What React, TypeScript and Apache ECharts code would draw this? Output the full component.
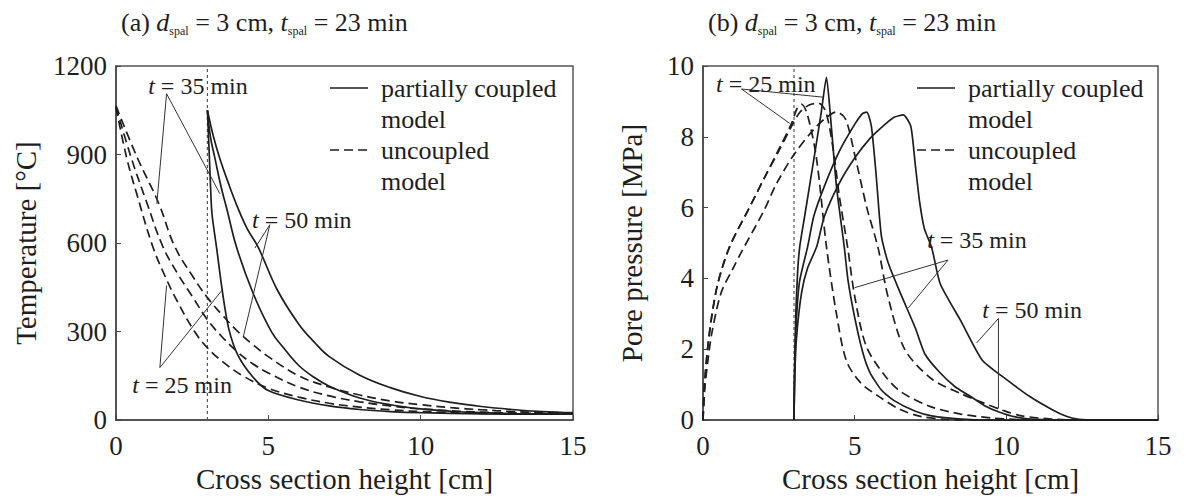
import React, { useEffect, useRef } from "react";
import * as echarts from "echarts";

const FONT = "'Liberation Serif', 'Times New Roman', serif";
const INK = "#1e1e1e";

// Axis ticks
const xTickInterval = 5;
const xRange = [0, 15];
const tempRange = [0, 1200];
const tempInterval = 300;
const pressRange = [0, 10];
const pressInterval = 2;
const spallDepth = 3;

// (a) Temperature [°C] vs cross section height [cm]
const tempUncoupled25: number[][] = [[0,1060],[0.35,889],[0.7,760],[1.2,590],[1.6,490],[2,405],[2.58,300],[3,245],[3.5,198],[4.13,152],[5,108],[6,78],[7,57],[8,44],[9,35],[10,29],[12,23],[15,20]];
const tempUncoupled35: number[][] = [[0,1062],[0.5,889],[1,740],[1.53,590],[2,500],[2.5,420],[3,340],[3.5,280],[4,230],[4.5,190],[5,160],[6,112],[7,82],[8,62],[9,48],[10,38],[12,27],[15,21]];
const tempUncoupled50: number[][] = [[0,1065],[0.7,889],[1.4,735],[1.92,590],[2.5,490],[3,415],[3.5,355],[4,300],[4.5,255],[5,215],[6,150],[7,112],[8,85],[9,65],[10,52],[11,42],[12,35],[13,29],[14,25],[15,23]];
const tempCoupled25: number[][] = [[3,1050],[3.05,930],[3.1,800],[3.15,700],[3.3,585],[3.5,430],[3.7,310],[4,220],[4.5,145],[5,100],[6,68],[7,48],[8,36],[9,29],[10,25],[12,21],[15,20]];
const tempCoupled35: number[][] = [[3,1050],[3.1,960],[3.25,886],[3.45,790],[3.63,719],[3.96,585],[4.5,430],[5.1,300],[5.5,245],[6,185],[6.5,145],[7,115],[8,75],[9,52],[10,38],[11,30],[12,25],[13,22],[15,20]];
const tempCoupled50: number[][] = [[3,1050],[3.2,960],[3.41,886],[3.7,800],[4,719],[4.3,650],[4.67,585],[5.3,440],[6,325],[6.5,265],[7,215],[8,152],[9,110],[10,80],[11,60],[12,46],[13,36],[14,29],[15,25]];

// (b) Pore pressure [MPa] vs cross section height [cm]
const pressUncoupled25: number[][] = [[0,0],[0.05,1.0],[0.15,2.0],[0.3,3.0],[0.5,3.9],[0.88,4.9],[1.5,5.95],[2,6.8],[2.5,7.65],[2.92,8.38],[3.1,8.8],[3.25,8.92],[3.45,8.6],[3.74,7.4],[4.07,4.9],[4.4,3.0],[4.73,1.67],[5.2,1.05],[5.83,0.65],[6.5,0.3],[7.2,0.1],[8,0.02],[9,0],[15,0]];
const pressUncoupled35: number[][] = [[0,0],[0.05,1.0],[0.15,2.0],[0.3,3.0],[0.5,3.9],[0.88,4.9],[1.5,5.95],[2,6.8],[2.5,7.6],[2.92,8.3],[3.2,8.7],[3.5,8.9],[3.8,8.95],[4.05,8.7],[4.3,7.6],[4.5,6.3],[4.77,4.87],[5,3.5],[5.38,2.09],[6,1.25],[6.54,0.79],[7.5,0.38],[8.5,0.17],[9.5,0.06],[10.5,0.01],[11,0],[15,0]];
const pressUncoupled50: number[][] = [[0,0],[0.05,0.8],[0.15,1.6],[0.3,2.5],[0.6,3.6],[1,4.3],[1.3,4.8],[2,5.9],[2.42,6.67],[3,7.5],[3.63,8.19],[4,8.5],[4.4,8.7],[4.7,8.5],[5,7.5],[5.4,6.0],[5.77,4.87],[6.1,3.48],[6.65,2.0],[7.54,1.16],[8.5,0.75],[9.2,0.5],[9.87,0.28],[10.5,0.12],[11.5,0.03],[12.5,0],[15,0]];
const pressCoupled25: number[][] = [[3,0],[3.02,1.5],[3.06,3],[3.12,4.2],[3.19,4.9],[3.35,5.75],[3.66,7.4],[3.9,8.7],[4.07,9.68],[4.2,8.6],[4.4,6.6],[4.66,4.87],[4.78,3.95],[5.0,2.9],[5.27,1.9],[5.5,1.35],[5.88,0.85],[6.3,0.55],[7,0.25],[7.54,0.12],[8.5,0.03],[9.5,0],[15,0]];
const pressCoupled35: number[][] = [[3,0],[3.02,1.3],[3.07,2.7],[3.18,3.9],[3.45,4.9],[3.65,5.75],[4,6.6],[4.5,7.6],[5,8.35],[5.25,8.65],[5.4,8.7],[5.55,8.3],[5.7,7.0],[5.88,5.2],[6.1,4.45],[6.5,3.6],[7,2.6],[7.32,1.86],[7.8,1.35],[8.3,0.95],[8.76,0.7],[9.3,0.4],[9.76,0.23],[10.3,0.09],[11,0.02],[12,0],[15,0]];
const pressCoupled50: number[][] = [[3,0],[3.02,1.1],[3.08,2.3],[3.25,3.6],[3.45,4.3],[3.75,4.9],[4,5.75],[4.5,6.7],[5,7.4],[5.5,7.95],[6,8.35],[6.3,8.55],[6.6,8.62],[6.85,8.3],[7,7.2],[7.14,6.17],[7.3,5.4],[7.54,4.87],[7.82,3.85],[8.5,2.8],[9.2,1.7],[10,1.15],[10.8,0.65],[11.5,0.3],[12,0.1],[12.4,0.02],[13,0],[15,0]];

// Annotations: label text, label anchor, leader polyline (end1 -> apex -> end2)
const annotationsA = [
  { text: "35", at: [2.69, 1132], leader: [[1.34, 733], [1.66, 1106], [3.41, 767]] },
  { text: "50", at: [6.1, 678], leader: [[4.56, 583], [5.05, 662], [4.18, 283]] },
  { text: "25", at: [2.17, 119], leader: [[1.66, 456], [1.44, 178], [3.47, 439]] },
];
const annotationsB = [
  { text: "25", at: [2.07, 9.49], leader: [[2.86, 8.38], [1.27, 9.35], [3.96, 9.12]] },
  { text: "35", at: [9.03, 5.1], leader: [[5.0, 3.74], [8.08, 4.52], [6.76, 3.16]] },
  { text: "50", at: [10.85, 3.1], leader: [[9.02, 2.18], [9.74, 2.87], [9.74, 0.33]] },
];

const legendLabels = ["partially coupled", "model", "uncoupled", "model"];
const titleA = "(a) {i|d}{s|spal} = 3 cm, {i|t}{s|spal} = 23 min";
const titleB = "(b) {i|d}{s|spal} = 3 cm, {i|t}{s|spal} = 23 min";

const GRIDS = [
  { left: 116, top: 66, width: 457, height: 361 },
  { left: 703, top: 66, width: 455, height: 361 },
];

function curve(data: number[][], g: number, dashed: boolean, smooth: number) {
  return {
    type: "line", xAxisIndex: g, yAxisIndex: g, data, symbol: "none", showSymbol: false,
    smooth, silent: true, z: 3,
    lineStyle: { color: INK, width: 1.7, type: dashed ? [9, 5] : "solid" },
  };
}

function leader(data: number[][], g: number) {
  return {
    type: "line", xAxisIndex: g, yAxisIndex: g, data, symbol: "none", showSymbol: false,
    smooth: false, silent: true, z: 4, lineStyle: { color: "#333", width: 1 },
  };
}

function dotted(g: number, top: number) {
  return {
    type: "line", xAxisIndex: g, yAxisIndex: g, data: [[spallDepth, 0], [spallDepth, top]],
    symbol: "none", silent: true, z: 2, lineStyle: { color: "#555", width: 1.2, type: [3, 3] },
  };
}

function legendGraphics(gx: number) {
  const lx = gx + 214;
  const tx = gx + 265;
  const ys = [88, 119, 150, 181];
  const txt = (s: string, y: number) => ({
    type: "text", x: tx, y, style: { text: s, fontFamily: FONT, fontSize: 26, fill: INK, verticalAlign: "middle", align: "left" },
  });
  return [
    { type: "line", shape: { x1: lx, y1: ys[0], x2: lx + 38, y2: ys[0] }, style: { stroke: INK, lineWidth: 1.7 } },
    txt(legendLabels[0], ys[0]),
    txt(legendLabels[1], ys[1]),
    { type: "line", shape: { x1: lx, y1: ys[2], x2: lx + 38, y2: ys[2] }, style: { stroke: INK, lineWidth: 1.7, lineDash: [9, 5] } },
    txt(legendLabels[2], ys[2]),
    txt(legendLabels[3], ys[3]),
  ];
}

function xAxis(g: number) {
  return {
    type: "value", gridIndex: g, min: xRange[0], max: xRange[1], interval: xTickInterval,
    name: "Cross section height [cm]", nameLocation: "middle", nameGap: 40,
    nameTextStyle: { fontFamily: FONT, fontSize: 29, color: INK },
    axisLine: { show: true, onZero: false, lineStyle: { color: "#444", width: 1.5 } },
    axisTick: { show: true, inside: true, length: 5, lineStyle: { color: "#444" } },
    axisLabel: { fontFamily: FONT, fontSize: 27, color: INK, margin: 12 },
    splitLine: { show: false },
  };
}

function yAxis(g: number, name: string, range: number[], interval: number, gap: number) {
  return {
    type: "value", gridIndex: g, min: range[0], max: range[1], interval,
    name, nameLocation: "middle", nameGap: gap, nameRotate: 90,
    nameTextStyle: { fontFamily: FONT, fontSize: 29, color: INK },
    axisLine: { show: true, onZero: false, lineStyle: { color: "#444", width: 1.5 } },
    axisTick: { show: true, inside: true, length: 5, lineStyle: { color: "#444" } },
    axisLabel: { fontFamily: FONT, fontSize: 27, color: INK, margin: 9, formatter: (v: number) => String(v) },
    splitLine: { show: false },
  };
}

function titleStyle() {
  return {
    fontFamily: FONT, fontSize: 26, fontWeight: "normal", color: INK, lineHeight: 30,
    rich: {
      i: { fontFamily: FONT, fontSize: 26, fontStyle: "italic", color: INK, lineHeight: 30 },
      s: { fontFamily: FONT, fontSize: 12, color: INK, verticalAlign: "bottom", lineHeight: 20 },
    },
  };
}

export default function App() {
  const ref = useRef<HTMLDivElement>(null);
  useEffect(() => {
    if (!ref.current) return;
    const chart = echarts.init(ref.current, undefined, { renderer: "svg" });
    const series: any[] = [
      dotted(0, tempRange[1]),
      dotted(1, pressRange[1]),
      curve(tempUncoupled25, 0, true, 0.4),
      curve(tempUncoupled35, 0, true, 0.4),
      curve(tempUncoupled50, 0, true, 0.4),
      curve(tempCoupled25, 0, false, 0.3),
      curve(tempCoupled35, 0, false, 0.4),
      curve(tempCoupled50, 0, false, 0.4),
      curve(pressUncoupled25, 1, true, 0.3),
      curve(pressUncoupled35, 1, true, 0.3),
      curve(pressUncoupled50, 1, true, 0.3),
      curve(pressCoupled25, 1, false, 0.2),
      curve(pressCoupled35, 1, false, 0.2),
      curve(pressCoupled50, 1, false, 0.2),
    ];
    annotationsA.forEach((a) => series.push(leader(a.leader, 0)));
    annotationsB.forEach((a) => series.push(leader(a.leader, 1)));

    chart.setOption({
      animation: false,
      backgroundColor: "#ffffff",
      title: [
        { text: titleA, left: 116, top: 2, textStyle: titleStyle() },
        { text: titleB, left: 703, top: 2, textStyle: titleStyle() },
      ],
      grid: GRIDS.map((g) => ({ ...g, show: true, borderColor: "#555", borderWidth: 1.5, backgroundColor: "transparent" })),
      xAxis: [xAxis(0), xAxis(1)],
      yAxis: [
        yAxis(0, "Temperature [°C]", tempRange, tempInterval, 76),
        yAxis(1, "Pore pressure [MPa]", pressRange, pressInterval, 57),
      ],
      series,
    });

    const annText = (at: number[], t: string, g: number) => {
      const p = chart.convertToPixel({ gridIndex: g }, at) as number[];
      return {
        type: "text", x: p[0], y: p[1], z: 10,
        style: {
          text: "{i|t} = " + t + " min", fontFamily: FONT, fontSize: 24, fill: INK,
          align: "center", verticalAlign: "middle",
          rich: { i: { fontFamily: FONT, fontSize: 24, fontStyle: "italic", fill: INK } },
        },
      };
    };
    const texts = [
      ...annotationsA.map((a) => annText(a.at, a.text, 0)),
      ...annotationsB.map((a) => annText(a.at, a.text, 1)),
    ];
    chart.setOption({
      graphic: [...legendGraphics(GRIDS[0].left), ...legendGraphics(GRIDS[1].left), ...texts],
    });
    return () => chart.dispose();
  }, []);
  return <div ref={ref} style={{ position: "fixed", left: 0, top: 0, width: 1191, height: 498 }} />;
}
